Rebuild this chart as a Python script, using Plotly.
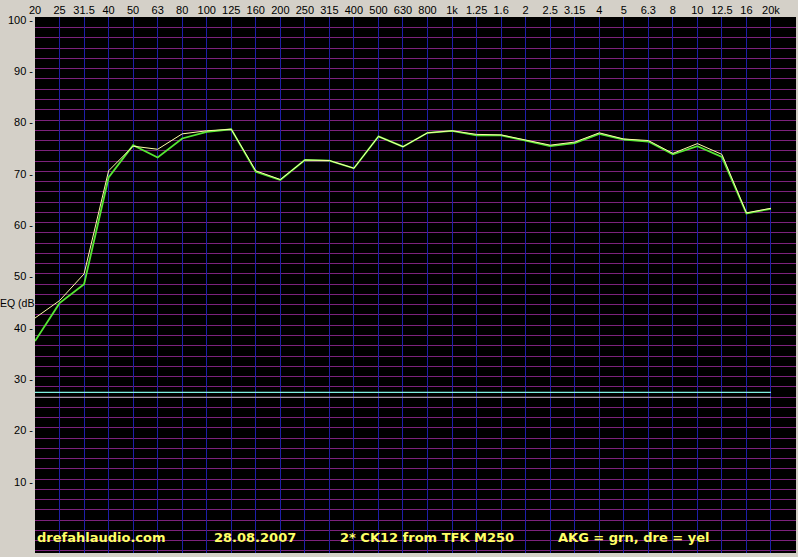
import plotly.graph_objects as go

# 1/3-octave band labels (top axis)
bands = ["20", "25", "31.5", "40", "50", "63", "80", "100", "125", "160",
         "200", "250", "315", "400", "500", "630", "800", "1k", "1.25", "1.6",
         "2", "2.5", "3.15", "4", "5", "6.3", "8", "10", "12.5", "16", "20k"]

# dre (yellow) response, dB
dre = [41.9, 45.3, 50.5, 70.6, 75.4, 74.8, 77.8, 78.4, 78.7, 70.6,
       68.9, 72.7, 72.6, 71.1, 77.3, 75.3, 78.0, 78.4, 77.7, 77.6,
       76.6, 75.6, 76.2, 78.0, 76.8, 76.5, 74.0, 75.9, 73.8, 62.4, 63.3]

# AKG (green) response, dB
akg = [37.4, 44.8, 48.5, 69.3, 75.6, 73.2, 76.9, 78.2, 78.7, 70.4,
       68.8, 72.7, 72.6, 71.1, 77.3, 75.3, 78.0, 78.4, 77.5, 77.5,
       76.5, 75.4, 76.0, 77.8, 76.7, 76.3, 73.8, 75.4, 73.3, 62.3, 63.2]

# reference levels (cyan and grey lines), dB
ref_cyan = [27.4] * len(bands)
ref_grey = [26.45] * len(bands)

y_tick_vals = [10, 20, 30, 40, 50, 60, 70, 80, 90, 100]
y_tick_text = [f"{v} -" for v in y_tick_vals]

footer = ["drefahlaudio.com", "28.08.2007", "2* CK12 from TFK M250", "AKG = grn, dre = yel"]
footer_x = [35, 212, 338, 556]

fig = go.Figure()
fig.add_trace(go.Scatter(x=bands, y=ref_grey, mode="lines",
                         line=dict(color="#b4b4b4", width=1.1), showlegend=False))
fig.add_trace(go.Scatter(x=bands, y=ref_cyan, mode="lines",
                         line=dict(color="#7ff0e0", width=1.3), showlegend=False))
fig.add_trace(go.Scatter(x=bands, y=akg, mode="lines",
                         line=dict(color="#55e633", width=1.8), showlegend=False))
fig.add_trace(go.Scatter(x=bands, y=dre, mode="lines",
                         line=dict(color="#ffffa8", width=1.0), showlegend=False))

W, H = 798, 557
ml, mr, mt, mb = 35, 2, 17, 4
pw = W - ml - mr
ph = H - mt - mb

for txt, px in zip(footer, footer_x):
    fig.add_annotation(text=txt, xref="paper", yref="paper",
                       x=(px - ml) / pw, y=(553 - 537) / ph,
                       xanchor="left", yanchor="middle", showarrow=False,
                       font=dict(family="DejaVu Sans", size=13, color="#ffff66",
                                 weight="bold"))

fig.add_annotation(text="EQ (dB", xref="paper", yref="y",
                   x=-1 / pw, y=44.8, xanchor="right", yanchor="middle",
                   showarrow=False, borderpad=0, borderwidth=0,
                   font=dict(family="Liberation Sans, Arial", size=10.5, color="#000000"))

# black footer strip covering grid lines
fig.add_shape(type="rect", xref="paper", yref="y", x0=0, x1=1, y0=-3.9, y1=1.5,
              fillcolor="#000000", line=dict(width=0), layer="between")

fig.update_layout(
    width=W, height=H,
    margin=dict(l=ml, r=mr, t=mt, b=mb, pad=0),
    paper_bgcolor="#d4d0c8", plot_bgcolor="#000000",
    showlegend=False,
    xaxis=dict(type="category", side="top", range=[0, 31.02], automargin=False,
               tickmode="array", tickvals=bands, ticktext=bands,
               showgrid=True, gridcolor="#1e1ea8", gridwidth=1,
               ticks="", zeroline=False, showline=False,
               tickfont=dict(family="Liberation Sans, Arial", size=11, color="#000000")),
    yaxis=dict(range=[-3.9, 100.58], tickmode="array", automargin=False,
               tickvals=y_tick_vals, ticktext=y_tick_text,
               showgrid=False, zeroline=False, showline=False, ticks="",
               ticklabelstandoff=1,
               minor=dict(tick0=0.5, dtick=2, showgrid=True,
                          gridcolor="#7c227c", gridwidth=1),
               tickfont=dict(family="Liberation Sans, Arial", size=11, color="#000000")),
)

fig.write_html("out.html", config={"displayModeBar": False},
               post_script="document.body.style.margin='0';document.body.style.overflow='hidden';")
